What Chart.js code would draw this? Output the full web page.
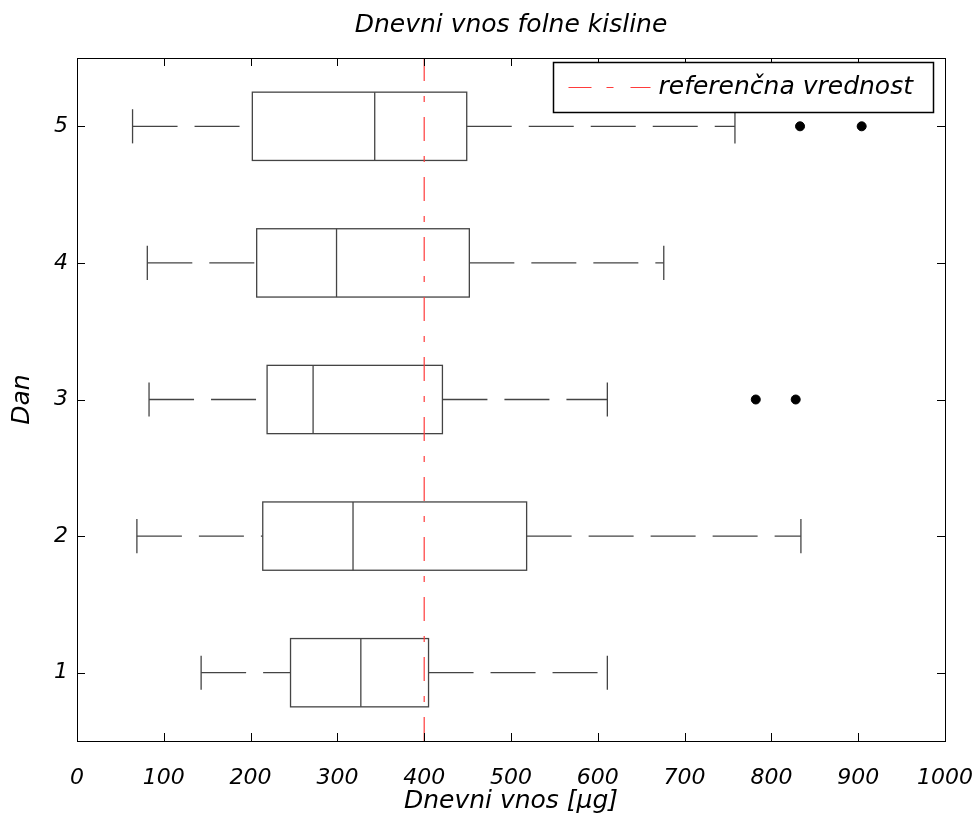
<!DOCTYPE html>
<html><head><meta charset="utf-8">
<script src="https://cdn.jsdelivr.net/npm/chart.js@4/dist/chart.umd.min.js"></script>
<style>html,body{margin:0;padding:0;background:#fff}</style>
</head><body>
<canvas id="c" width="976" height="816"></canvas>
<script>
// ---- data ----
const days = [1, 2, 3, 4, 5];
const whiskerLow = [143, 69, 83, 81, 64];
const q1 = [246, 214, 219, 207, 202];
const medians = [327, 318, 272, 299, 343];
const q3 = [405, 518, 421, 452, 449];
const whiskerHigh = [611, 834, 611, 676, 758];
const outlierDays = [3, 3, 5, 5];
const outlierValues = [782, 828, 833, 904];
const referenceValue = 400;
const xTickValues = [0, 100, 200, 300, 400, 500, 600, 700, 800, 900, 1000];
const chartTitle = 'Dnevni vnos folne kisline';
const xTitle = 'Dnevni vnos [μg]';
const yTitle = 'Dan';
const legendLabel = 'referenčna vrednost';

const FONT = "'DejaVu Sans', sans-serif";
const FS_TEXT = 25;
const FS_TICK = 22;
const BOX_HALF = 0.25, CAP_HALF = 0.125;
const LINE_COLOR = '#444';
const RED = '#ff3b3b';
const RED_DASH = [24, 15, 6, 15];

const boxPlugin = {
  id: 'boxes',
  beforeDatasetsDraw(chart) {
    const {ctx, scales: {x, y}, chartArea} = chart;
    ctx.save();
    ctx.beginPath();
    ctx.rect(chartArea.left, chartArea.top, chartArea.right - chartArea.left, chartArea.bottom - chartArea.top);
    ctx.clip();
    ctx.strokeStyle = LINE_COLOR;
    ctx.lineWidth = 1.3;
    days.forEach((d, i) => {
      const yc = y.getPixelForValue(d);
      const yt = y.getPixelForValue(d + BOX_HALF);
      const yb = y.getPixelForValue(d - BOX_HALF);
      const ct = y.getPixelForValue(d + CAP_HALF);
      const cb = y.getPixelForValue(d - CAP_HALF);
      const xl = x.getPixelForValue(q1[i]);
      const xr = x.getPixelForValue(q3[i]);
      const xm = x.getPixelForValue(medians[i]);
      const xlo = x.getPixelForValue(whiskerLow[i]);
      const xhi = x.getPixelForValue(whiskerHigh[i]);
      ctx.setLineDash([]);
      ctx.strokeRect(xl, yt, xr - xl, yb - yt);
      ctx.beginPath(); ctx.moveTo(xm, yt); ctx.lineTo(xm, yb); ctx.stroke();
      ctx.beginPath(); ctx.moveTo(xlo, ct); ctx.lineTo(xlo, cb); ctx.stroke();
      ctx.beginPath(); ctx.moveTo(xhi, ct); ctx.lineTo(xhi, cb); ctx.stroke();
      ctx.setLineDash([45, 17]);
      ctx.beginPath(); ctx.moveTo(xlo, yc); ctx.lineTo(xl, yc); ctx.stroke();
      ctx.beginPath(); ctx.moveTo(xr, yc); ctx.lineTo(xhi, yc); ctx.stroke();
    });
    ctx.restore();
  },
  afterDraw(chart) {
    const {ctx, scales: {x, y}, chartArea: a} = chart;
    ctx.save();
    ctx.strokeStyle = '#000';
    ctx.lineWidth = 1;
    ctx.setLineDash([]);
    ctx.strokeRect(Math.round(a.left) + 0.5, Math.round(a.top) + 0.5,
      Math.round(a.right - a.left), Math.round(a.bottom - a.top));
    const TL = 8;
    ctx.beginPath();
    x.ticks.forEach(t => {
      const px = Math.round(x.getPixelForValue(t.value)) + 0.5;
      ctx.moveTo(px, a.bottom); ctx.lineTo(px, a.bottom - TL);
      ctx.moveTo(px, a.top); ctx.lineTo(px, a.top + TL);
    });
    y.ticks.forEach(t => {
      const py = Math.round(y.getPixelForValue(t.value)) + 0.5;
      ctx.moveTo(a.left, py); ctx.lineTo(a.left + TL, py);
      ctx.moveTo(a.right, py); ctx.lineTo(a.right - TL, py);
    });
    ctx.stroke();
    // legend
    const lw = 380, lh = 50;
    const lx = Math.round(a.right - 12 - lw) + 0.5, ly = Math.round(a.top + 4) + 0.5;
    ctx.fillStyle = '#fff';
    ctx.fillRect(lx, ly, lw, lh);
    ctx.lineWidth = 1.5;
    ctx.strokeStyle = '#000';
    ctx.strokeRect(lx, ly, lw, lh);
    ctx.lineWidth = 1.2;
    ctx.strokeStyle = RED;
    ctx.setLineDash([23, 15, 7, 17]);
    ctx.beginPath();
    ctx.moveTo(lx + 15, ly + lh / 2); ctx.lineTo(lx + 97, ly + lh / 2);
    ctx.stroke();
    ctx.setLineDash([]);
    ctx.fillStyle = '#000';
    ctx.font = 'italic ' + FS_TEXT + 'px ' + FONT;
    ctx.textBaseline = 'middle';
    ctx.textAlign = 'left';
    ctx.fillText(legendLabel, lx + 105, ly + lh / 2);
    ctx.restore();
  }
};

const textFont = {family: FONT, size: FS_TEXT, style: 'italic', weight: 'normal', lineHeight: 1.2};
const tickFont = {family: FONT, size: FS_TICK, style: 'italic', weight: 'normal', lineHeight: 1.2};

new Chart(document.getElementById('c'), {
  type: 'scatter',
  data: {
    datasets: [
      {
        type: 'line',
        label: legendLabel,
        data: [{x: referenceValue, y: 0.5}, {x: referenceValue, y: 5.5}],
        borderColor: RED,
        borderWidth: 1.2,
        borderDash: RED_DASH,
        pointRadius: 0,
        fill: false
      },
      {
        label: 'outliers',
        data: outlierValues.map((v, i) => ({x: v, y: outlierDays[i]})),
        backgroundColor: '#000',
        borderColor: '#000',
        pointRadius: 4.5,
        pointHoverRadius: 4.5
      }
    ]
  },
  options: {
    responsive: false,
    animation: false,
    devicePixelRatio: 1,
    layout: {padding: {left: 0, right: 31, top: 0, bottom: 0}},
    plugins: {
      legend: {display: false},
      tooltip: {enabled: false},
      title: {
        display: true,
        fullSize: false,
        text: chartTitle,
        color: '#000',
        font: textFont,
        padding: {top: 10, bottom: 18}
      }
    },
    scales: {
      x: {
        type: 'linear',
        min: 0, max: 1000,
        afterBuildTicks: s => { s.ticks = xTickValues.map(v => ({value: v})); },
        afterFit: s => { s.height = 75; s.paddingLeft = 0; s.paddingRight = 0; },
        grid: {display: false, drawTicks: false},
        border: {display: false},
        ticks: {color: '#000', padding: 24, maxRotation: 0, font: tickFont, callback: v => String(v)},
        title: {display: true, text: xTitle, color: '#000', padding: {top: 0, bottom: 0}, font: textFont}
      },
      y: {
        type: 'linear',
        min: 0.5, max: 5.5,
        afterBuildTicks: s => { s.ticks = days.map(v => ({value: v})); },
        afterFit: s => { s.width = 77; s.paddingTop = 0; s.paddingBottom = 0; },
        grid: {display: false, drawTicks: false},
        border: {display: false},
        ticks: {color: '#000', padding: 9, font: tickFont, callback: v => String(v)},
        title: {display: true, text: yTitle, color: '#000', padding: {top: 7, bottom: 0}, font: textFont}
      }
    }
  },
  plugins: [boxPlugin]
});
</script>
</body></html>
